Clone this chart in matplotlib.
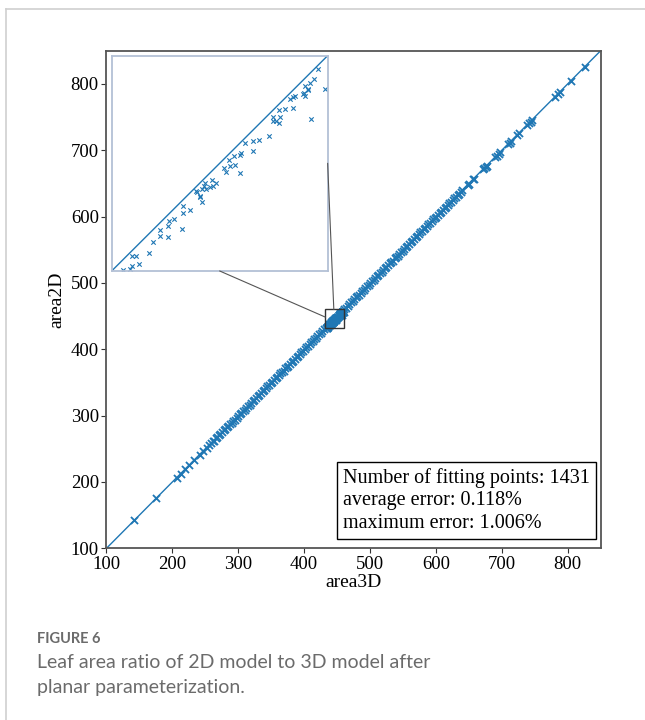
"""area2D vs area3D scatter with a zoomed inset, figure 6 layout."""
import matplotlib
matplotlib.use("Agg")
import matplotlib.pyplot as plt
from matplotlib.lines import Line2D
from matplotlib.patches import ConnectionPatch, Rectangle

# leaf areas from the 3D model and after planar parameterization (2D)
area3D = [
    142.4, 175.3, 206.8, 212.5, 219.8, 225.4, 233.0, 241.6, 247.2, 252.1,
    256.3, 258.7, 261.2, 263.0, 265.8, 268.1, 270.4, 272.9, 275.6, 277.8,
    280.3, 282.9, 285.1, 287.6, 290.2, 292.5, 295.0, 297.4, 299.9, 302.6,
    304.8, 307.3, 309.9, 312.2, 314.6, 317.3, 319.7, 322.0, 324.6, 327.1,
    329.5, 332.0, 334.4, 337.0, 339.3, 341.9, 344.2, 346.8, 349.1, 351.5,
    354.2, 356.5, 358.9, 361.5, 363.8, 366.4, 368.7, 371.3, 373.6, 376.2,
    378.5, 381.0, 383.6, 385.9, 388.5, 390.8, 393.4, 395.7, 398.3, 400.6,
    403.2, 405.5, 408.1, 410.4, 413.0, 415.3, 417.9, 420.2, 422.8, 425.1,
    427.7, 430.1,
    433.5, 434.4, 434.6, 434.6, 435.2, 435.6, 436.8, 437.4, 438.3, 438.3,
    439.3, 439.3, 439.4, 440.1, 441.1, 441.3, 441.3, 442.2, 442.9, 443.0,
    443.4, 443.5, 443.7, 443.7, 444.0, 444.1, 444.2, 444.7, 445.0, 445.2,
    445.5, 446.5, 446.8, 447.2, 447.4, 447.9, 448.0, 448.6, 448.6, 448.8,
    449.3, 450.3, 450.3, 451.1, 452.4, 452.9, 452.9, 453.3, 453.7, 453.8,
    453.7, 454.5, 455.1, 455.5, 455.8, 455.5, 456.8, 456.9, 457.1, 457.1,
    457.5, 457.5, 457.7, 458.2, 457.8, 458.7, 459.7,
    461.2, 463.6, 466.1, 468.5, 471.0, 473.4, 475.9, 478.3, 480.8, 483.2,
    485.7, 488.1, 490.6, 493.0, 495.5, 497.9, 500.4, 502.8, 505.3, 507.7,
    510.2, 512.6, 515.1, 517.5, 520.0, 522.4, 524.9, 527.3, 529.8, 532.2,
    534.7, 537.1, 539.6, 542.0, 544.5, 546.9, 549.4, 551.8, 554.3, 556.7,
    559.2, 561.6, 564.1, 566.5, 569.0, 571.4, 573.9, 576.3, 578.8, 581.2,
    583.7, 586.1, 588.6, 591.0, 593.5, 595.9, 598.4, 600.8, 603.3, 605.7,
    608.2, 610.6, 613.1, 615.5, 618.0, 620.4, 622.9, 625.3, 627.8, 630.2,
    632.7, 635.1, 637.6, 640.0,
    648.3, 650.1, 656.2, 658.0, 671.5, 673.4, 675.6, 677.9, 689.6, 692.3,
    695.0, 697.8, 709.4, 711.8, 714.6, 723.5, 726.1, 738.2, 740.9, 743.5,
    746.0, 780.4, 784.6, 788.3, 804.5, 826.0,
]
area2D = [
    142.0, 175.1, 206.2, 212.3, 219.0, 225.1, 232.4, 241.3, 246.5, 251.8,
    255.9, 258.1, 261.0, 262.4, 265.5, 267.3, 270.2, 272.5, 274.8, 277.6,
    279.9, 282.1, 284.9, 287.2, 289.4, 292.3, 294.1, 297.1, 299.5, 301.8,
    304.6, 306.9, 309.0, 312.0, 314.3, 316.4, 319.5, 321.6, 323.9, 326.8,
    329.3, 331.2, 334.1, 336.7, 338.4, 341.6, 343.9, 346.0, 348.9, 351.1,
    353.2, 356.3, 358.6, 360.7, 363.5, 366.1, 367.8, 371.0, 373.3, 375.4,
    378.3, 380.6, 382.7, 385.7, 388.1, 390.1, 393.1, 395.5, 397.3, 400.3,
    402.9, 404.7, 407.8, 410.2, 412.1, 415.0, 417.6, 419.4, 422.5, 424.8,
    426.9, 429.8,
    432.1, 432.2, 432.7, 433.9, 434.0, 432.9, 434.4, 435.8, 437.3, 436.6,
    436.4, 437.9, 438.5, 438.7, 437.4, 439.6, 440.5, 439.9, 442.4, 442.3,
    441.6, 441.7, 441.0, 442.7, 443.0, 443.5, 442.6, 442.9, 443.8, 443.0,
    443.4, 445.4, 444.9, 446.4, 445.6, 447.0, 445.8, 447.1, 444.7, 447.3,
    448.7, 448.9, 447.6, 449.0, 449.6, 452.0, 451.5, 451.5, 451.3, 452.0,
    452.9, 453.0, 454.4, 454.6, 454.7, 453.2, 455.0, 455.1, 454.8, 456.1,
    455.5, 455.7, 456.5, 457.0, 451.7, 458.3, 455.7,
    460.8, 462.9, 465.8, 467.6, 470.7, 473.0, 475.1, 478.0, 480.5, 482.3,
    485.3, 487.8, 489.7, 492.7, 495.1, 497.0, 500.1, 502.5, 504.4, 507.3,
    509.9, 511.6, 514.8, 517.1, 519.2, 522.1, 524.5, 526.4, 529.5, 531.9,
    533.7, 536.8, 539.2, 541.1, 544.2, 546.6, 548.5, 551.4, 554.0, 555.8,
    558.9, 561.2, 563.2, 566.2, 568.7, 570.5, 573.5, 576.0, 577.9, 580.9,
    583.3, 585.2, 588.3, 590.6, 592.6, 595.6, 598.1, 599.9, 602.9, 605.4,
    607.3, 610.3, 612.7, 614.6, 617.7, 620.1, 622.0, 624.9, 627.5, 629.3,
    632.4, 634.7, 636.7, 639.7,
    647.8, 649.2, 655.9, 657.3, 671.0, 672.8, 675.2, 676.9, 689.2, 691.5,
    694.7, 697.0, 708.9, 711.0, 714.3, 722.8, 725.8, 737.6, 740.4, 742.7,
    745.6, 779.8, 784.2, 787.5, 804.1, 825.7,
]
ticks = [100, 200, 300, 400, 500, 600, 700, 800]
axis_range = (100, 850)
zoom_range = (432, 460)
stats_lines = [
    "Number of fitting points: 1431",
    "average error: 0.118%",
    "maximum error: 1.006%",
]

serif = "Liberation Serif"
blue = "#1f77b4"

fig = plt.figure(figsize=(6.45, 7.2), dpi=100)

# page frame (left and top rules)
fig.add_artist(Line2D([0.0099, 0.0099], [0.0, 0.987], color="#cfcfcf", lw=1.2))
fig.add_artist(Line2D([0.0099, 1.0], [0.987, 0.987], color="#cfcfcf", lw=1.2))

ax = fig.add_axes([0.1651, 0.2385, 0.7662, 0.6911])
ax.plot(axis_range, axis_range, color=blue, lw=1.0, zorder=1)
ax.scatter(area3D, area2D, marker="x", s=26, linewidths=1.3, color=blue, zorder=2)
ax.set_xlim(axis_range)
ax.set_ylim(axis_range)
ax.set_xticks(ticks)
ax.set_yticks(ticks)
for lab in ax.get_xticklabels() + ax.get_yticklabels():
    lab.set_fontfamily(serif)
    lab.set_fontsize(13.5)
ax.tick_params(length=3.5, width=0.8, color="#333333", pad=2)
for sp in ax.spines.values():
    sp.set_color("#555555")
    sp.set_linewidth(1.3)
ax.set_xlabel("area3D", fontfamily=serif, fontsize=14, labelpad=1)
ax.set_ylabel("area2D", fontfamily=serif, fontsize=14, labelpad=4)

# statistics box
ax.text(0.4786, 0.162, "\n".join(stats_lines), transform=ax.transAxes,
        ha="left", va="top", fontfamily=serif, fontsize=14.5, linespacing=1.28,
        bbox=dict(boxstyle="square,pad=0.3", facecolor="white",
                  edgecolor="black", linewidth=1.0), zorder=5)

# zoom rectangle on the main axes
z0, z1 = zoom_range
ax.add_patch(Rectangle((z0, z0), z1 - z0, z1 - z0, fill=False,
                       edgecolor="#333333", lw=1.0, zorder=4))

# inset showing the zoomed region
axins = ax.inset_axes([0.0105, 0.5573, 0.437, 0.4327])
axins.plot(zoom_range, zoom_range, color=blue, lw=1.0, zorder=1)
axins.scatter(area3D, area2D, marker="x", s=10, linewidths=0.8, color=blue, zorder=2)
axins.set_xlim(zoom_range)
axins.set_ylim(zoom_range)
axins.set_xticks([])
axins.set_yticks([])
for sp in axins.spines.values():
    sp.set_color("#b3c0d6")
    sp.set_linewidth(1.3)

for xy_a, xy_b in [((0.50, 0.0), (z0, 448.5)), ((1.0, 0.50), (445.0, z1))]:
    con = ConnectionPatch(xyA=xy_a, coordsA=axins.transAxes,
                          xyB=xy_b, coordsB=ax.transData,
                          color="#555555", lw=0.8, zorder=3)
    fig.add_artist(con)

# caption
fig.text(0.0574, 1 - 643 / 720, "FIGURE 6", fontfamily="Lato", fontsize=10.5,
         fontweight="bold", color="#6b6b6b", ha="left", va="baseline")
fig.text(0.0574, 1 - 668 / 720, "Leaf area ratio of 2D model to 3D model after",
         fontfamily="Lato", fontsize=14, color="#6b6b6b", ha="left", va="baseline")
fig.text(0.0574, 1 - 693 / 720, "planar parameterization.",
         fontfamily="Lato", fontsize=14, color="#6b6b6b", ha="left", va="baseline")

fig.savefig("out.png", dpi=100, facecolor="white")
